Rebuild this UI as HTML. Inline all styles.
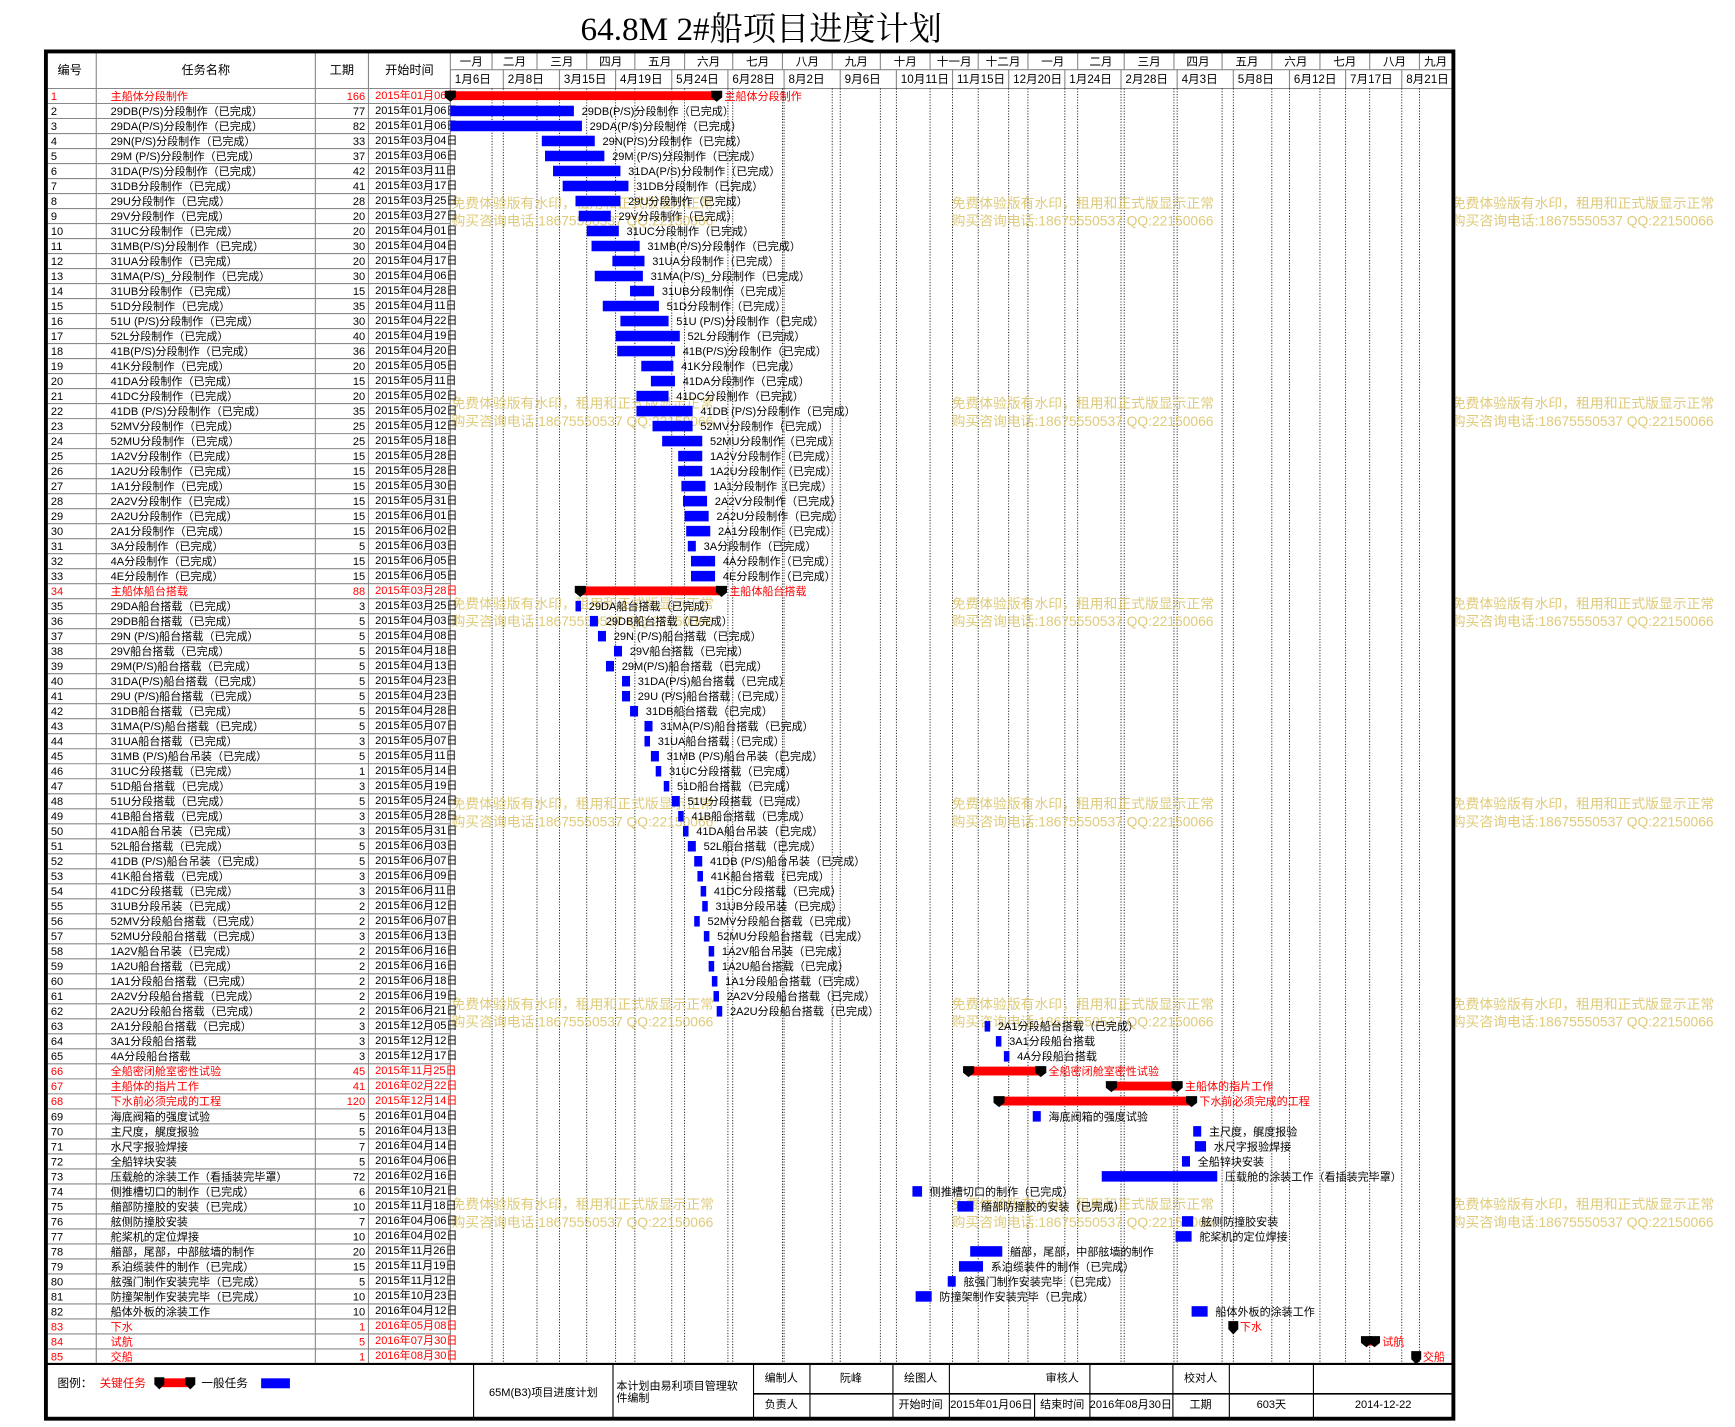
<!DOCTYPE html>
<html><head><meta charset="utf-8"><style>
html,body{margin:0;padding:0;background:#fff;}
svg{display:block;font-family:"Liberation Sans","Noto Sans CJK SC",sans-serif;}
</style></head><body>
<svg id="chart" width="1735" height="1427" viewBox="0 0 1568 1290" preserveAspectRatio="none" xmlns="http://www.w3.org/2000/svg">
<text x="688" y="36" text-anchor="middle" font-size="30" font-family="Liberation Serif,Noto Serif CJK SC,serif">64.8M 2#船项目进度计划</text>
<g id="g"></g>
</svg>
<script>
const names=["主船体分段制作","29DB(P/S)分段制作（已完成）","29DA(P/S)分段制作（已完成）","29N(P/S)分段制作（已完成）","29M (P/S)分段制作（已完成）","31DA(P/S)分段制作（已完成）","31DB分段制作（已完成）","29U分段制作（已完成）","29V分段制作（已完成）","31UC分段制作（已完成）","31MB(P/S)分段制作（已完成）","31UA分段制作（已完成）","31MA(P/S)_分段制作（已完成）","31UB分段制作（已完成）","51D分段制作（已完成）","51U (P/S)分段制作（已完成）","52L分段制作（已完成）","41B(P/S)分段制作（已完成）","41K分段制作（已完成）","41DA分段制作（已完成）","41DC分段制作（已完成）","41DB (P/S)分段制作（已完成）","52MV分段制作（已完成）","52MU分段制作（已完成）","1A2V分段制作（已完成）","1A2U分段制作（已完成）","1A1分段制作（已完成）","2A2V分段制作（已完成）","2A2U分段制作（已完成）","2A1分段制作（已完成）","3A分段制作（已完成）","4A分段制作（已完成）","4E分段制作（已完成）","主船体船台搭载","29DA船台搭载（已完成）","29DB船台搭载（已完成）","29N (P/S)船台搭载（已完成）","29V船台搭载（已完成）","29M(P/S)船台搭载（已完成）","31DA(P/S)船台搭载（已完成）","29U (P/S)船台搭载（已完成）","31DB船台搭载（已完成）","31MA(P/S)船台搭载（已完成）","31UA船台搭载（已完成）","31MB (P/S)船台吊装（已完成）","31UC分段搭载（已完成）","51D船台搭载（已完成）","51U分段搭载（已完成）","41B船台搭载（已完成）","41DA船台吊装（已完成）","52L船台搭载（已完成）","41DB (P/S)船台吊装（已完成）","41K船台搭载（已完成）","41DC分段搭载（已完成）","31UB分段吊装（已完成）","52MV分段船台搭载（已完成）","52MU分段船台搭载（已完成）","1A2V船台吊装（已完成）","1A2U船台搭载（已完成）","1A1分段船台搭载（已完成）","2A2V分段船台搭载（已完成）","2A2U分段船台搭载（已完成）","2A1分段船台搭载（已完成）","3A1分段船台搭载","4A分段船台搭载","全船密闭舱室密性试验","主船体的指片工作","下水前必须完成的工程","海底阀箱的强度试验","主尺度，艉度报验","水尺字报验焊接","全船锌块安装","压载舱的涂装工作（看插装完毕罩）","侧推槽切口的制作（已完成）","艏部防撞胶的安装（已完成）","舷侧防撞胶安装","舵桨机的定位焊接","艏部，尾部，中部舷墙的制作","系泊缆装件的制作（已完成）","舷强门制作安装完毕（已完成）","防撞架制作安装完毕（已完成）","船体外板的涂装工作","下水","试航","交船"];
const durations=[166,77,82,33,37,42,41,28,20,20,30,20,30,15,35,30,40,36,20,15,20,35,25,25,15,15,15,15,15,15,5,15,15,88,3,5,5,5,5,5,5,5,5,3,5,1,3,5,3,3,5,5,3,3,2,2,3,2,2,2,2,2,3,3,3,45,41,120,5,5,7,5,72,6,10,7,10,20,15,5,10,10,1,5,1];
const startDays=[0,0,0,57,59,64,70,78,80,85,88,101,90,112,95,106,103,104,119,125,116,116,126,132,142,142,144,145,146,147,148,150,150,81,78,87,92,102,97,107,107,112,121,121,125,128,133,138,142,145,148,152,154,156,157,152,158,161,161,163,164,166,333,340,345,323,412,342,363,463,464,456,406,288,316,456,452,324,317,310,290,462,488,571,602];
const critical=[1,34,66,67,68,83,84,85];
const milestones=[83,85];
const monthLabels=["一月","二月","三月","四月","五月","六月","七月","八月","九月","十月","十一月","十二月","一月","二月","三月","四月","五月","六月","七月","八月","九月"];
const tickLabels=["1月6日","2月8日","3月15日","4月19日","5月24日","6月28日","8月2日","9月6日","10月11日","11月15日","12月20日","1月24日","2月28日","4月3日","5月8日","6月12日","7月17日","8月21日"];
const tickDays=[0,33,68,103,138,173,208,243,278,313,348,383,418,453,488,523,558,593];

const NS="http://www.w3.org/2000/svg";
const G=document.getElementById('g');
const X0=407,X1=1312,PXD=1.45,TOP=80,RH=13.565,L=40,R=1315;
const xs=d=>X0+d*PXD;
const ry=i=>TOP+i*RH;
function el(t,a,p){const e=document.createElementNS(NS,t);for(const k in a)e.setAttribute(k,a[k]);(p||G).appendChild(e);return e;}
function tx(x,y,s,a){const e=el('text',Object.assign({x:x,y:y,'font-size':10},a||{}));e.textContent=s;return e;}
const base=new Date(2015,0,6);
function dayDate(d){const t=new Date(base.getTime()+d*86400000);return t;}
function fmt(t){return t.getFullYear()+"年"+String(t.getMonth()+1).padStart(2,'0')+"月"+String(t.getDate()).padStart(2,'0')+"日";}

// header
const hdr=[["编号",63],["任务名称",186],["工期",309],["开始时间",370]];
hdr.forEach(h=>{const t=tx(h[1],67,h[0],{'text-anchor':'middle','font-size':11});
});
// table column lines
[87,285,333,407].forEach(x=>{const l=el('line',{x1:x,y1:47,x2:x,y2:1233,stroke:'#888','stroke-width':1});
});
el('line',{x1:L,y1:80,x2:X1,y2:80,stroke:'#888'});
el('line',{x1:X0,y1:63,x2:X1,y2:63,stroke:'#888'});

// months
const mb=[];for(let m=0;m<=21;m++){const d=new Date(2015,m,1);mb.push(Math.max(0,(d-base)/86400000));}
const maxDay=(X1-X0)/PXD;
for(let m=0;m<monthLabels.length;m++){
 const a=xs(mb[m]),b=xs(Math.min(mb[m+1],maxDay));
 if(m>0){const l=el('line',{x1:a,y1:47,x2:a,y2:63,stroke:'#888'});
  const dl=el('line',{x1:a,y1:80,x2:a,y2:1233,stroke:'#000','stroke-width':0.8,'stroke-dasharray':'1,1.5'});}
 const t=tx((a+b)/2,59,monthLabels[m],{'text-anchor':'middle','font-size':10.5});
 
}
for(let i=0;i<tickDays.length;i++){
 const a=xs(tickDays[i]);
 if(i>0){const l=el('line',{x1:a,y1:63,x2:a,y2:80,stroke:'#888'});
  const dl=el('line',{x1:a,y1:80,x2:a,y2:1233,stroke:'#000','stroke-width':0.8,'stroke-dasharray':'1,1.5'});}
 const t=tx(a+4,75,tickLabels[i],{'font-size':10.5});
 
}

// watermarks
[188,369,550,731,912,1093].forEach(y=>{[408,860,1312].forEach(x=>{
 const a=tx(x,y,"免费体验版有水印，租用和正式版显示正常",{'font-size':12.5,fill:'#d9c263','fill-opacity':0.85});
 
 const b=tx(x,y+16,"购买咨询电话:18675550537 QQ:22150066",{'font-size':12.5,fill:'#d9c263','fill-opacity':0.85});
 });});

function pent(x,y,w,h){return el('path',{d:`M${x-w/2} ${y} h${w} v${h*0.6} l${-w/2} ${h*0.4} l${-w/2} ${-h*0.4} z`,fill:'#000'});}

for(let i=0;i<names.length;i++){
 const n=i+1,y=ry(i),isC=critical.includes(n),col=isC?'#ff0000':'#000',cy=y+RH/2+3.5;
 const rl=el('line',{x1:L,y1:y+RH,x2:X0,y2:y+RH,stroke:'#888','stroke-width':1});
 
 let t=tx(46,cy,String(n),{fill:col});
 t=tx(100,cy,names[i],{fill:col});
 t=tx(330,cy,String(durations[i]),{fill:col,'text-anchor':'end'});
 t=tx(339,cy-1,fmt(dayDate(startDays[i])),{fill:col,'font-size':10});
 const a=xs(startDays[i]),w=Math.max(durations[i]*PXD,5),b=a+w;
 let labelX;
 if(milestones.includes(n)){
  const m=pent(a,y+2,9,12);
  labelX=a+6;
 } else if(isC){
  const r=el('rect',{x:a,y:y+2.5,width:w,height:8,fill:'#ff0000'});
  const p1=pent(a,y+2,10,10);
  const p2=pent(b,y+2,10,10);
  labelX=b+7;
 } else {
  const r=el('rect',{x:a,y:y+2,width:w,height:9.5,fill:'#0000ff'});
  labelX=b+7;
 }
 t=tx(labelX,cy,names[i],{fill:col});
}

// footer
el('line',{x1:L,y1:1233,x2:R,y2:1233,stroke:'#000','stroke-width':2});
[428,554,681].forEach(x=>el('line',{x1:x,y1:1233,x2:x,y2:1284,stroke:'#000','stroke-width':1}));
[732,807,858,985,1060,1111,1187].forEach(x=>el('line',{x1:x,y1:1233,x2:x,y2:1284,stroke:'#000','stroke-width':1}));
el('line',{x1:935,y1:1260,x2:935,y2:1284,stroke:'#000'});
el('line',{x1:681,y1:1260,x2:R,y2:1260,stroke:'#000','stroke-width':1.5});
let f=tx(52,1254,"图例：",{'font-size':10.5});
f=tx(90,1254,"关键任务",{'font-size':10.5,fill:'#ff0000'});
el('rect',{x:142,y:1246,width:32,height:8,fill:'#ff0000'});pent(144,1245,9,11);pent(172,1245,9,11);
f=tx(182,1254,"一般任务",{'font-size':10.5});
const lb=el('rect',{x:236,y:1246,width:26,height:9,fill:'#0000ff'});
const ft=[[491,1262,"65M(B3)项目进度计划",'middle'],[557,1256,"本计划由易利项目管理软",'start'],[557,1267,"件编制",'start'],
[706,1249,"编制人",'middle'],[769,1249,"阮峰",'middle'],[832,1249,"绘图人",'middle'],[960,1249,"审核人",'middle'],[1085,1249,"校对人",'middle'],
[706,1273,"负责人",'middle'],[832,1273,"开始时间",'middle'],[896,1273,"2015年01月06日",'middle'],[960,1273,"结束时间",'middle'],[1022,1273,"2016年08月30日",'middle'],[1085,1273,"工期",'middle'],[1149,1273,"603天",'middle'],[1250,1273,"2014-12-22",'middle']];
ft.forEach(d=>{const t=tx(d[0],d[1],d[2],{'text-anchor':d[3],'font-size':10});});
// outer border
const ob=el('rect',{x:41.5,y:46.5,width:1272,height:1236,fill:'none',stroke:'#000','stroke-width':3.5});

</script>
</body></html>
